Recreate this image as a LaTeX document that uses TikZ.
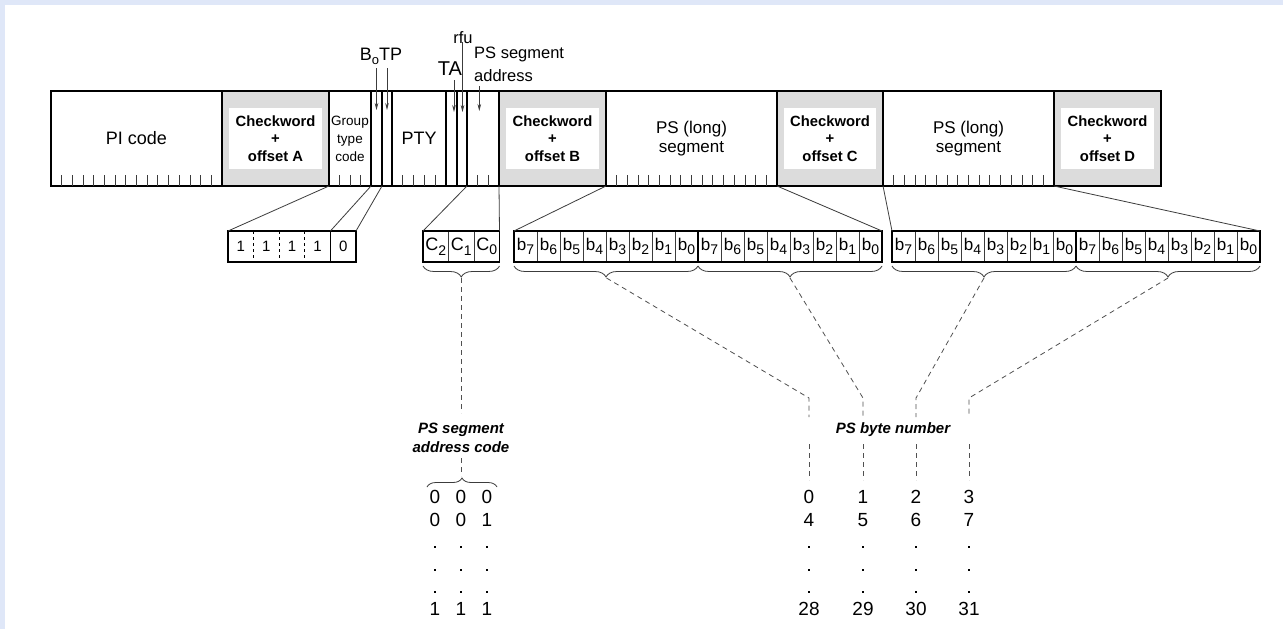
\documentclass[tikz,border=0pt]{standalone}
\usepackage{fontspec}
\setmainfont{Liberation Sans}
\usetikzlibrary{arrows.meta,decorations.pathreplacing}
\definecolor{bandblue}{RGB}{223,231,248}
\definecolor{ckgray}{RGB}{220,220,220}
\definecolor{tickgray}{RGB}{60,60,60}
\definecolor{dashgray}{RGB}{80,80,80}
\newcommand\fsz[2]{\fontsize{#1}{#2}\selectfont}
\newcommand\lowsub[1]{\raisebox{-4.5pt}{\fontsize{14}{14}\selectfont #1}}
\newcommand\topsub[1]{\raisebox{-4pt}{\fontsize{13}{13}\selectfont #1}}
\tikzset{
  field/.style={draw, line width=1.2pt, anchor=north west, inner sep=0pt, outer sep=0pt,
    minimum height=95pt, align=center},
  ckfield/.style={field, fill=ckgray},
  ckinner/.style={fill=white, inner sep=0pt, minimum height=61pt, align=center,
    font=\bfseries\fsz{14.8}{17.5}},
  tick/.style={draw=tickgray, line width=0.8pt},
  ptr/.style={draw=tickgray, line width=0.8pt, -{Stealth[length=7pt,width=3.6pt]}},
  toplabel/.style={inner sep=0pt, anchor=base, font=\fsz{18}{18}},
  cell/.style={anchor=north west, inner sep=0pt, outer sep=0pt, minimum height=31pt},
  boxline/.style={draw, line width=1.8pt},
  sepline/.style={draw=tickgray, line width=0.7pt},
  link/.style={draw=tickgray, line width=0.8pt},
  brc/.style={draw=tickgray, line width=0.8pt, decorate,
    decoration={brace, amplitude=11pt, aspect=0.5}},
  dashline/.style={draw=dashgray, line width=0.8pt, dash pattern=on 5pt off 4pt},
  num/.style={inner sep=0pt, font=\fsz{19}{19}},
  lbl/.style={inner sep=0pt, align=center, font=\bfseries\itshape\fsz{15}{18.5}},
  dotmark/.style={fill=black}
}
\begin{document}
\begin{tikzpicture}[x=1pt, y=-1pt]
\useasboundingbox (0,0) rectangle (1283,629);
\fill[white] (0,0) rectangle (1283,629);
\fill[bandblue] (0,0) rectangle (1283,5);
\fill[bandblue] (0,0) rectangle (5,629);

% ---- the group as a bit field ----
\node[field, minimum width=171pt, font=\fsz{18}{18}] (pi) at (51,91) {PI code};
\node[ckfield, minimum width=107pt] (ckA) at (222,91) {};
\node[field, minimum width=42pt, font=\fsz{13.5}{18}] (gtc) at (329,91) {Group\\type\\code};
\node[field, minimum width=11pt] (bzero) at (371,91) {};
\node[field, minimum width=10pt] (tp) at (382,91) {};
\node[field, minimum width=54pt, font=\fsz{18}{18}] (pty) at (392,91) {PTY};
\node[field, minimum width=11pt] (ta) at (446,91) {};
\node[field, minimum width=10pt] (rfu) at (457,91) {};
\node[field, minimum width=32pt] (psa) at (467,91) {};
\node[ckfield, minimum width=107pt] (ckB) at (499,91) {};
\node[field, minimum width=171pt, font=\fsz{17}{19}] (psB) at (606,91) {PS (long)\\segment};
\node[ckfield, minimum width=106pt] (ckC) at (777,91) {};
\node[field, minimum width=171pt, font=\fsz{17}{19}] (psC) at (883,91) {PS (long)\\segment};
\node[ckfield, minimum width=107pt] (ckD) at (1054,91) {};

\node[ckinner, minimum width=93pt] (ckAt) at (ckA.center) {Checkword\\+\\offset A};
\node[ckinner, minimum width=93pt] (ckBt) at (ckB.center) {Checkword\\+\\offset B};
\node[ckinner, minimum width=92pt] (ckCt) at (ckC.center) {Checkword\\+\\offset C};
\node[ckinner, minimum width=93pt] (ckDt) at (ckD.center) {Checkword\\+\\offset D};

\draw[line width=1.8pt] (pi.north west) rectangle (ckD.south east);

% bit ticks along the bottom edge
\foreach \a/\b/\n in {51/222/16, 329/371/4, 392/446/5, 467/499/3, 606/777/16, 883/1054/16}{
  \pgfmathtruncatemacro\m{\n-1}
  \foreach \i in {1,...,\m}{
    \draw[tick] ({\a+(\b-\a)*\i/\n},186) -- ++(0,-11);
  }
}

% ---- labels above the field ----
\node[toplabel] (lblbtp) at (381,60) {B\topsub{o}TP};
\node[toplabel, font=\fsz{20}{20}] (lblta) at (450,75) {TA};
\node[toplabel, font=\fsz{16.5}{16.5}] (lblrfu) at (463,43.3) {rfu};
\node[toplabel, anchor=north west, align=left, font=\fsz{16.5}{23.5}] (lblpsa) at (474,46.5) {PS segment\\address};

\draw[ptr] ([yshift=23pt]bzero.north) -- ([yshift=-19pt]bzero.north);
\draw[ptr] ([yshift=23pt]tp.north) -- ([yshift=-19pt]tp.north);
\draw[ptr] ([xshift=2.5pt,yshift=11pt]ta.north) -- ([xshift=2.5pt,yshift=-21pt]ta.north);
\draw[ptr] ([xshift=0.5pt,yshift=49pt]rfu.north) -- ([xshift=0.5pt,yshift=-21pt]rfu.north);
\draw[ptr] ([xshift=-3.7pt,yshift=5pt]psa.north) -- ([xshift=-3.7pt,yshift=-20pt]psa.north);

% ---- group type code bits ----
\foreach \d [count=\i] in {1,1,1,1,0}
  \node[cell, minimum width=25.6pt, font=\fsz{15}{15}] (nb\i) at ({228+25.6*(\i-1)},231) {\d};
\foreach \i in {1,2,3}
  \draw[dashed, line width=0.7pt] (nb\i.north east) -- (nb\i.south east);
\draw[line width=0.9pt] (nb4.north east) -- (nb4.south east);
\draw[boxline] (nb1.north west) rectangle (nb5.south east);

% ---- segment address bits ----
\foreach \d [count=\i] in {2,1,0}
  \node[cell, minimum width=25.5pt, font=\fsz{18}{18}] (c\d) at ({423+25.5*(\i-1)},231) {C\lowsub{\d}};
\draw[sepline] (c2.north east) -- (c2.south east);
\draw[sepline] (c1.north east) -- (c1.south east);
\draw[line width=1.4pt] (c2.north west) rectangle (c0.south east);

% ---- PS character bytes ----
\foreach \x [count=\k] in {514,698,892,1076}{
  \foreach \j in {7,...,0}{
    \node[cell, minimum width=23pt, font=\fsz{17}{17}] (by\k b\j) at ({\x+23*(7-\j)},231) {b\lowsub{\j}};
  }
  \foreach \j in {7,...,1}{
    \draw[sepline] (by\k b\j.north east) -- (by\k b\j.south east);
  }
}
\draw[line width=1.3pt] (by1b0.north east) -- (by1b0.south east);
\draw[line width=1.3pt] (by3b0.north east) -- (by3b0.south east);
\draw[boxline] (by1b7.north west) rectangle (by2b0.south east);
\draw[boxline] (by3b7.north west) rectangle (by4b0.south east);

% ---- expansion lines from the field ----
\draw[link] (ckA.south east) -- (nb1.north west);
\draw[link] (gtc.south east) -- (nb5.north west);
\draw[link] (bzero.south east) -- (nb5.north east);
\draw[link] (rfu.south east) -- (c2.north west);
\draw[link] (psa.south east) -- (c0.north east);
\draw[link] (ckB.south east) -- (by1b7.north west);
\draw[link] (psB.south east) -- (by2b0.north east);
\draw[link] (ckC.south east) -- (by3b7.north west);
\draw[link] (psC.south east) -- (by4b0.north east);

% ---- braces under the bit groups ----
\draw[brc] ([yshift=-4pt]c0.south east) -- ([yshift=-4pt]c2.south west);
\foreach \k in {1,2,3,4}
  \draw[brc] ([yshift=-4pt]by\k b0.south east) -- ([yshift=-4pt]by\k b7.south west);

\coordinate (tc) at (461,278);
\coordinate (t1) at (606.5,278);
\coordinate (t2) at (790,278);
\coordinate (t3) at (984,278);
\coordinate (t4) at (1168,278);

% ---- segment address code ----
\node[lbl] (addrlbl) at (461,438) {PS segment\\address code};
\coordinate (ca) at (461,413);
\coordinate (cb) at (461,458);
\coordinate (cc) at (461,476);
\draw[dashline] (tc) -- (ca);
\draw[dashline] (cb) -- (cc);
\draw[brc, decoration={brace, amplitude=9pt}] (427,487) -- (497,487);

\foreach \x/\p/\q/\r [count=\i] in {435/0/0/1, 461/0/0/1, 487/0/1/1}{
  \node[num] (ac\i a) at (\x,497) {\p};
  \node[num] (ac\i b) at (\x,520) {\q};
  \node[num] (ac\i c) at (\x,609) {\r};
  \foreach \y in {547,570,592}
    \fill[dotmark] (\x-1.2,\y-1.2) rectangle (\x+1.2,\y+1.2);
}

% ---- PS byte numbers ----
\node[lbl] (bytelbl) at (893,430) {PS byte number};
\foreach \x/\p/\q/\r/\t [count=\i] in {809/0/4/28/t1, 863/1/5/29/t2, 916/2/6/30/t3, 969/3/7/31/t4}{
  \coordinate (k\i a) at (\x,398);
  \coordinate (k\i b) at (\x,417);
  \coordinate (k\i c) at (\x,444);
  \coordinate (k\i d) at (\x,480);
  \draw[dashline] (\t) -- (k\i a) -- (k\i b);
  \draw[dashline] (k\i c) -- (k\i d);
  \node[num] (bn\i a) at (\x,497) {\p};
  \node[num] (bn\i b) at (\x,520) {\q};
  \node[num] (bn\i c) at (\x,609) {\r};
  \foreach \y in {547,570,592}
    \fill[dotmark] (\x-1.2,\y-1.2) rectangle (\x+1.2,\y+1.2);
}
\end{tikzpicture}
\end{document}
